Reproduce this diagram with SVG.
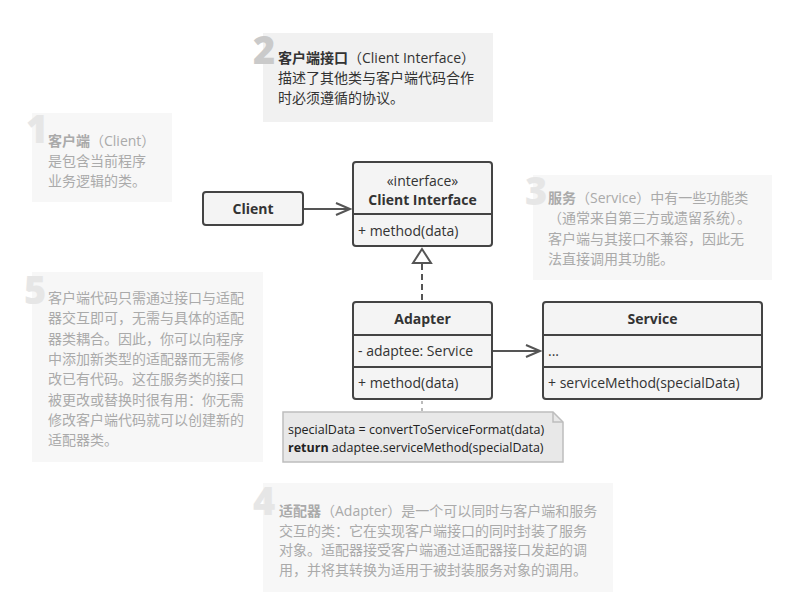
<svg xmlns="http://www.w3.org/2000/svg" width="802" height="605" viewBox="0 0 802 605">
<defs>
<style>
.desc{fill:#f7f7f7}
.desc.active{fill:#f1f1f1}
.num{font-family:"Open Sans","Liberation Sans",sans-serif;font-weight:800;font-size:38px;fill:#e6e6e6}
.num.active{fill:#cacaca}
.dt{font-family:"Open Sans","Noto Sans CJK SC",sans-serif;font-size:14px;fill:#aaaaaa}
.dt.active{fill:#333333}
.b{font-weight:bold}
.box{fill:#f4f4f4;stroke:#444444;stroke-width:2}
.div{stroke:#444444;stroke-width:2}
.ut{font-family:"Open Sans","Liberation Sans",sans-serif;font-size:14px;fill:#333333}
.ub{font-weight:bold;text-anchor:middle}
.conn{stroke:#555555;stroke-width:2;fill:none}
.nt{font-family:"Open Sans","Liberation Sans",sans-serif;font-size:12.5px;fill:#222222}
</style>
</defs>

<g id="desc1">
<rect class="desc" x="32" y="113" width="140" height="89"/>
<text class="num" x="26" y="143">1</text>
<text class="dt" x="48" y="146"><tspan class="b">客户端</tspan>（Client）</text>
<text class="dt" x="48" y="166">是包含当前程序</text>
<text class="dt" x="48" y="186">业务逻辑的类。</text>
</g>

<g id="desc2">
<rect class="desc active" x="263" y="33" width="230" height="89"/>
<text class="num active" x="253" y="64">2</text>
<text class="dt active" x="278" y="63"><tspan class="b">客户端接口</tspan>（Client Interface）</text>
<text class="dt active" x="278" y="83">描述了其他类与客户端代码合作</text>
<text class="dt active" x="278" y="103">时必须遵循的协议。</text>
</g>

<g id="desc3">
<rect class="desc" x="533" y="175" width="239" height="105"/>
<text class="num" x="525" y="205">3</text>
<text class="dt" x="548" y="203"><tspan class="b">服务</tspan>（Service）中有一些功能类</text>
<text class="dt" x="548" y="223">（通常来自第三方或遗留系统）。</text>
<text class="dt" x="548" y="244">客户端与其接口不兼容，因此无</text>
<text class="dt" x="548" y="264">法直接调用其功能。</text>
</g>

<g id="desc5">
<rect class="desc" x="32" y="272" width="231" height="190"/>
<text class="num" x="24" y="304">5</text>
<text class="dt" x="48" y="303">客户端代码只需通过接口与适配</text>
<text class="dt" x="48" y="323">器交互即可，无需与具体的适配</text>
<text class="dt" x="48" y="344">器类耦合。因此，你可以向程序</text>
<text class="dt" x="48" y="364">中添加新类型的适配器而无需修</text>
<text class="dt" x="48" y="384">改已有代码。这在服务类的接口</text>
<text class="dt" x="48" y="405">被更改或替换时很有用：你无需</text>
<text class="dt" x="48" y="425">修改客户端代码就可以创建新的</text>
<text class="dt" x="48" y="445">适配器类。</text>
</g>

<g id="desc4">
<rect class="desc" x="263" y="483" width="350" height="109"/>
<text class="num" x="253" y="515">4</text>
<text class="dt" x="279" y="516"><tspan class="b">适配器</tspan>（Adapter）是一个可以同时与客户端和服务</text>
<text class="dt" x="279" y="536">交互的类：它在实现客户端接口的同时封装了服务</text>
<text class="dt" x="279" y="555">对象。适配器接受客户端通过适配器接口发起的调</text>
<text class="dt" x="279" y="575">用，并将其转换为适用于被封装服务对象的调用。</text>
</g>

<g id="connectors">
<line class="conn" x1="303" y1="209" x2="350" y2="209"/>
<polyline class="conn" points="336,203 350,209 336,215"/>
<line class="conn" x1="422" y1="264" x2="422" y2="302" stroke-dasharray="6,4"/>
<polygon points="422,249 413,263 431,263" fill="#ffffff" stroke="#555555" stroke-width="2"/>
<line class="conn" x1="492" y1="351" x2="540" y2="351"/>
<polyline class="conn" points="526,345 540,351 526,357"/>
<line x1="422" y1="401" x2="422" y2="412" stroke="#bbbbbb" stroke-width="2" stroke-dasharray="3,4"/>
</g>

<g id="client">
<rect class="box" x="203" y="192" width="100" height="33" rx="3"/>
<text class="ut ub" x="253" y="214">Client</text>
</g>

<g id="client-interface">
<rect class="box" x="353" y="162" width="139" height="84" rx="3"/>
<line class="div" x1="353" y1="214" x2="492" y2="214"/>
<text class="ut" x="422.5" y="186" text-anchor="middle">«interface»</text>
<text class="ut ub" x="422.5" y="205">Client Interface</text>
<text class="ut" x="358" y="236">+ method(data)</text>
</g>

<g id="adapter">
<rect class="box" x="353" y="302" width="139" height="97" rx="3"/>
<line class="div" x1="353" y1="335" x2="492" y2="335"/>
<line class="div" x1="353" y1="367" x2="492" y2="367"/>
<text class="ut ub" x="422.5" y="324">Adapter</text>
<text class="ut" x="358" y="356">- adaptee: Service</text>
<text class="ut" x="358" y="388">+ method(data)</text>
</g>

<g id="service">
<rect class="box" x="543" y="302" width="219" height="97" rx="3"/>
<line class="div" x1="543" y1="335" x2="762" y2="335"/>
<line class="div" x1="543" y1="367" x2="762" y2="367"/>
<text class="ut ub" x="652.5" y="324">Service</text>
<text class="ut" x="548" y="356">...</text>
<text class="ut" x="548" y="388">+ serviceMethod(specialData)</text>
</g>

<g id="note">
<path d="M283,412 H553 L563,422 V462 H283 Z" fill="#e8e8e8" stroke="#bdbdbd" stroke-width="1.5"/>
<path d="M553,412 V422 H563" fill="none" stroke="#bdbdbd" stroke-width="1.5"/>
<text class="nt" x="288" y="434">specialData = convertToServiceFormat(data)</text>
<text class="nt" x="288" y="452"><tspan class="b">return</tspan> adaptee.serviceMethod(specialData)</text>
</g>
</svg>
